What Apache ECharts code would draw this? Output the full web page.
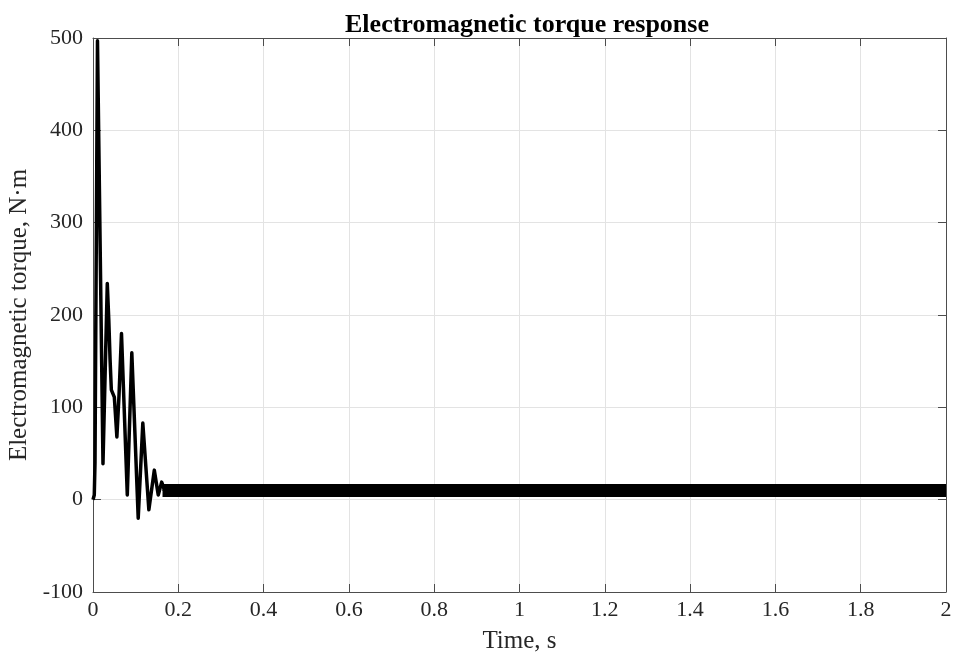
<!DOCTYPE html>
<html>
<head>
<meta charset="utf-8">
<script src="https://cdn.jsdelivr.net/npm/echarts@6/dist/echarts.min.js"></script>
<style>
  html, body { margin: 0; padding: 0; background: #fff; }
  #chart { width: 953px; height: 653px; }
</style>
</head>
<body>
<div id="chart"></div>
<script>
// Start-up transient of the electromagnetic torque (time in s, torque in N·m)
const transientTime = [0, 0.003, 0.0047, 0.0105, 0.0234, 0.0335, 0.037, 0.040, 0.043, 0.050, 0.056, 0.061, 0.0668,
  0.0804, 0.091, 0.106, 0.1168, 0.131, 0.1437, 0.153, 0.161, 0.168];
const transientTorque = [0, 5, 40, 497, 39, 234, 195, 152, 119, 111, 68, 113, 180,
  5, 159, -20, 83, -11, 32, 5, 19, 10];

// Steady-state torque ripple band (time span, lower and upper bound)
const rippleTime = [0.163, 2.0];
const rippleLow = [3, 3];
const rippleHigh = [17, 17];

// Axis ticks
const xTicks = [0, 0.2, 0.4, 0.6, 0.8, 1, 1.2, 1.4, 1.6, 1.8, 2];
const yTicks = [-100, 0, 100, 200, 300, 400, 500];

const font = '"Liberation Serif", "Times New Roman", serif';
const axisColor = '#4d4d4d';
const textColor = '#262626';

const xBase = {
  type: 'value', min: xTicks[0], max: xTicks[xTicks.length - 1], interval: 0.2,
  axisLine: { onZero: false, lineStyle: { color: axisColor, width: 1 } },
  axisTick: { inside: true, length: 8, lineStyle: { color: axisColor } },
  splitLine: { show: false }
};
const yBase = {
  type: 'value', min: yTicks[0], max: yTicks[yTicks.length - 1], interval: 100,
  axisLine: { onZero: false, lineStyle: { color: axisColor, width: 1 } },
  axisTick: { inside: true, length: 8, lineStyle: { color: axisColor } },
  splitLine: { show: false }
};

const chart = echarts.init(document.getElementById('chart'), null, { renderer: 'canvas' });
chart.setOption({
  animation: false,
  backgroundColor: '#ffffff',
  title: {
    text: 'Electromagnetic torque response',
    left: 522, top: 7, textAlign: 'center',
    textStyle: { fontFamily: font, fontSize: 26, fontWeight: 'bold', color: '#000' }
  },
  grid: { left: 93, right: 7, top: 38, bottom: 61, containLabel: false, outerBoundsMode: 'none' },
  xAxis: [
    Object.assign({}, xBase, {
      position: 'bottom',
      name: 'Time, s', nameLocation: 'middle', nameGap: 37,
      nameTextStyle: { fontFamily: font, fontSize: 25, color: textColor },
      axisLabel: { fontFamily: font, fontSize: 22, color: textColor, margin: 7,
        formatter: v => String(+v.toFixed(1)) },
      splitLine: { show: true, lineStyle: { color: '#e3e3e3', width: 1 } }
    }),
    Object.assign({}, xBase, { position: 'top', axisLabel: { show: false } })
  ],
  yAxis: [
    Object.assign({}, yBase, {
      position: 'left',
      name: 'Electromagnetic torque, N·m', nameLocation: 'middle', nameGap: 58,
      nameTextStyle: { fontFamily: font, fontSize: 25, color: textColor },
      axisLabel: { fontFamily: font, fontSize: 22, color: textColor, margin: 10 },
      splitLine: { show: true, lineStyle: { color: '#e3e3e3', width: 1 } }
    }),
    Object.assign({}, yBase, { position: 'right', axisLabel: { show: false } })
  ],
  series: [
    {
      name: 'Torque ripple',
      type: 'line',
      xAxisIndex: 0, yAxisIndex: 0,
      data: rippleTime.map((t, i) => [t, (rippleLow[i] + rippleHigh[i]) / 2]),
      symbol: 'none',
      lineStyle: { color: '#000', width: 1 },
      markArea: {
        silent: true,
        itemStyle: { color: '#000', opacity: 1 },
        data: [[
          { coord: [rippleTime[0], rippleLow[0]] },
          { coord: [rippleTime[1], rippleHigh[1]] }
        ]]
      },
      z: 3
    },
    {
      name: 'Torque',
      type: 'line',
      xAxisIndex: 0, yAxisIndex: 0,
      data: transientTime.map((t, i) => [t, transientTorque[i]]),
      symbol: 'none',
      lineStyle: { color: '#000', width: 3.5, join: 'round' },
      z: 4
    }
  ]
});
</script>
</body>
</html>
